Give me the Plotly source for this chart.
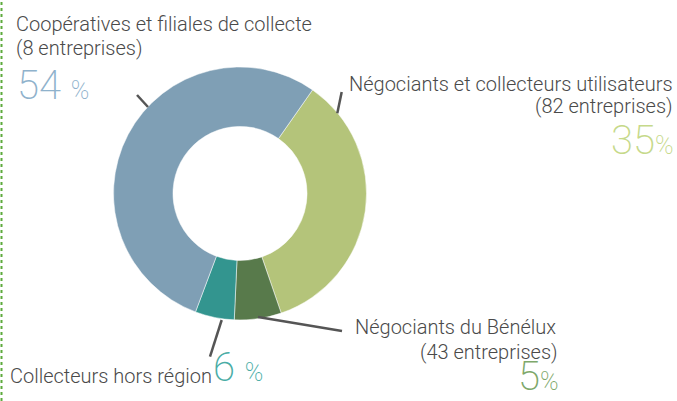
import plotly.graph_objects as go

# Data (clockwise from the green slice)
labels = ["Négociants et collecteurs utilisateurs", "Négociants du Bénélux",
          "Collecteurs hors région", "Coopératives et filiales de collecte"]
companies = ["(82 entreprises)", "(43 entreprises)", "", "(8 entreprises)"]
shares = [35, 6, 5, 54]          # slice sizes as drawn
pct_text = ["35", "5", "6", "54"]  # figures printed next to the slices
colors = ["#B4C47A", "#587A4B", "#33958F", "#7F9FB5"]
pct_colors = ["#C6D98A", "#7EA86A", "#4AADA6", "#8FB2CC"]

W, H = 677, 401
def px(x):
    return x / W
def py(y):
    return 1 - y / H

fig = go.Figure(go.Pie(
    labels=labels, values=shares, hole=0.53, sort=False,
    direction="clockwise", rotation=35,
    marker=dict(colors=colors, line=dict(color="white", width=0.5)),
    textinfo="none", hoverinfo="label+percent", showlegend=False,
    domain=dict(x=[px(240 - 126.5), px(240 + 126.5)],
                y=[py(193.5 + 126.5), py(193.5 - 126.5)]),
))

txt = "#4A4A4A"
fnt = "Roboto"
ann = []
def add(x, y, text, size, color, xanchor="left", weight=300, yanchor="middle"):
    ann.append(dict(x=px(x), y=py(y), xref="paper", yref="paper", text=text,
                    showarrow=False, xanchor=xanchor, yanchor=yanchor, borderpad=0,
                    font=dict(family=fnt, size=size, color=color, weight=weight)))

def pct(i, small=25, gap=""):
    return f"{pct_text[i]}{gap}<span style='font-size:{small}px'>%</span>"

# Coopératives
add(15, 24, labels[3], 20, txt)
add(15, 48, companies[3], 20, txt)
add(16, 86, pct(3, 25, " "), 40, pct_colors[3], weight=200)
# Négociants et collecteurs utilisateurs
add(674, 84, labels[0], 20, txt, "right")
add(674, 106, companies[0], 20, txt, "right")
add(675, 140, pct(0), 40, pct_colors[0], "right", weight=200)
# Bénélux
add(557, 327, labels[1], 20, txt, "right")
add(559, 352, companies[1], 20, txt, "right")
add(560, 401, pct(1), 40, pct_colors[1], "right", weight=200, yanchor="bottom")
# Hors région
add(9, 376, labels[2], 20, txt)
add(212, 367, pct(2, 25, " "), 40, pct_colors[2], weight=200)

# leader lines
lines = [(137, 95, 148, 107), (341.7, 92, 337.3, 113.3),
         (258, 317, 342, 331), (221.7, 320, 210, 356.7)]
shapes = [dict(type="line", xref="paper", yref="paper",
               x0=px(a), y0=py(b), x1=px(c), y1=py(d),
               line=dict(color="#555555", width=2.5)) for a, b, c, d in lines]
# dotted rule on the left edge
shapes.append(dict(type="line", xref="paper", yref="paper",
                   x0=px(1.5), x1=px(1.5), y0=0, y1=1,
                   line=dict(color="#5DAA3C", width=2, dash="dot")))

fig.update_layout(width=W, height=H, margin=dict(l=0, r=0, t=0, b=0),
                  paper_bgcolor="white", plot_bgcolor="white",
                  annotations=ann, shapes=shapes)
fig.write_html("out.html", config={"displayModeBar": False},
               post_script="document.body.style.margin='0';")
